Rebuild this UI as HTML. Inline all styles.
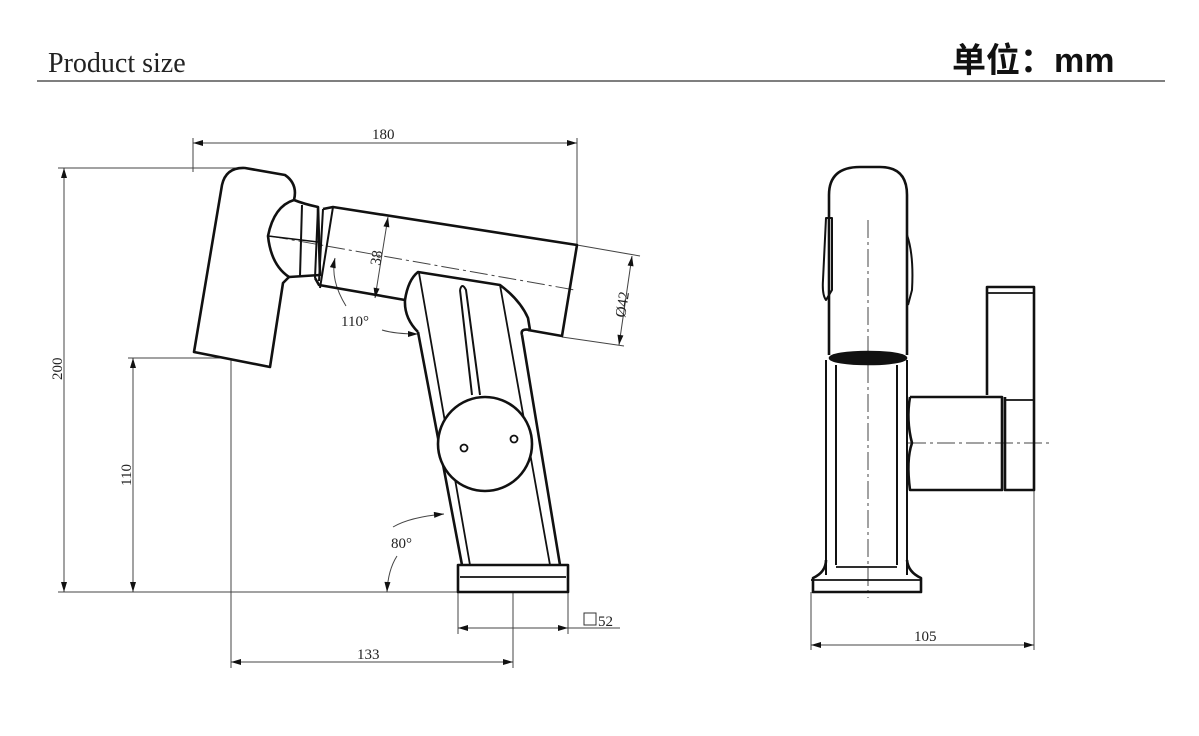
<!DOCTYPE html>
<html><head><meta charset="utf-8"><style>
html,body{margin:0;padding:0;background:#fff;width:1199px;height:736px;overflow:hidden}
svg{display:block}
.t{font-family:"Liberation Serif",serif;fill:#222}
</style></head><body>
<svg width="1199" height="736" viewBox="0 0 1199 736" xmlns="http://www.w3.org/2000/svg">
<defs>
<marker id="a" viewBox="0 0 10 6" refX="10" refY="3" markerWidth="14" markerHeight="6" markerUnits="userSpaceOnUse" orient="auto-start-reverse"><path d="M0,0 L10,3 L0,6z" fill="#111"/></marker>
</defs>
<text x="48" y="72" class="t" font-size="28">Product size</text>
<text x="952" y="72" font-family="'Liberation Sans','Noto Sans CJK SC',sans-serif" font-size="34" font-weight="bold" fill="#111">单位：mm</text>
<line x1="37" y1="81" x2="1165" y2="81" stroke="#555" stroke-width="1.5"/>

<g stroke="#444" stroke-width="1" fill="none">
<line x1="193" y1="138" x2="193" y2="172"/><line x1="577" y1="138" x2="577" y2="245"/>
<line x1="58" y1="168" x2="240" y2="168"/><line x1="58" y1="592" x2="460" y2="592"/>
<line x1="128" y1="358" x2="228" y2="358"/>
<line x1="231" y1="360" x2="231" y2="668"/><line x1="513" y1="592" x2="513" y2="668"/>
<line x1="458" y1="592" x2="458" y2="634"/><line x1="568" y1="592" x2="568" y2="634"/>
<line x1="577" y1="245" x2="640" y2="256"/><line x1="562" y1="337" x2="624" y2="346"/>
<line x1="1034" y1="490" x2="1034" y2="650"/><line x1="811" y1="592" x2="811" y2="650"/>
<line x1="193" y1="143" x2="577" y2="143" marker-start="url(#a)" marker-end="url(#a)"/>
<line x1="64" y1="168" x2="64" y2="592" marker-start="url(#a)" marker-end="url(#a)"/>
<line x1="133" y1="358" x2="133" y2="592" marker-start="url(#a)" marker-end="url(#a)"/>
<line x1="231" y1="662" x2="513" y2="662" marker-start="url(#a)" marker-end="url(#a)"/>
<line x1="458" y1="628" x2="568" y2="628" marker-start="url(#a)" marker-end="url(#a)"/>
<line x1="568" y1="628" x2="620" y2="628"/>
<line x1="811" y1="645" x2="1034" y2="645" marker-start="url(#a)" marker-end="url(#a)"/>
<line x1="632" y1="256" x2="619" y2="345" marker-start="url(#a)" marker-end="url(#a)"/>
<line x1="388" y1="217" x2="375" y2="298" marker-start="url(#a)" marker-end="url(#a)"/>
<path d="M346 306 Q330 280 335 258" marker-end="url(#a)"/>
<path d="M382 330 Q395 334 418 334" marker-end="url(#a)"/>
<path d="M393 527 Q410 517 444 514" marker-end="url(#a)"/>
<path d="M397 556 Q388 570 387 592" marker-end="url(#a)"/>
<line x1="270" y1="236" x2="575" y2="290" stroke-dasharray="18 4 3 4"/>
<line x1="868" y1="220" x2="868" y2="598" stroke-dasharray="18 4 3 4"/>
<line x1="908" y1="443" x2="1052" y2="443" stroke-dasharray="18 4 3 4"/>
</g>

<g class="t" font-size="15">
<text x="372" y="139">180</text>
<text x="357" y="659">133</text>
<text x="914" y="641">105</text>
<text x="598" y="626">52</text>
<text x="341" y="326">110°</text>
<text x="391" y="548">80°</text>
<text transform="translate(62,380) rotate(-90)">200</text>
<text transform="translate(131,486) rotate(-90)">110</text>
<text transform="translate(380,266) rotate(-81)">38</text>
<text transform="translate(625,318) rotate(-81)">Ø42</text>
</g>
<rect x="584" y="613" width="12" height="12" fill="none" stroke="#333" stroke-width="1"/>

<g stroke="#111" stroke-width="2.6" fill="none" stroke-linejoin="round">
<path d="M222 185 Q226 167 245 168 L285 175 Q298 184 294 200 Q274 206 268 236 Q271 265 289 277 L283 283 L270 367 L194 352 Z"/>
<path d="M294 200 Q304 204 318 207 L320 275 L289 277"/>
<line x1="268" y1="236" x2="318" y2="242" stroke-width="1.5"/>
<path d="M302 205 L300 276 M318 207 L315 278 M323 209 L319 281" stroke-width="2"/>
<path d="M323 209 L333 207 L577 245 L562 336 L528 330 M405 300 L319 285 L315 278"/>
<line x1="333" y1="207" x2="320" y2="288" stroke-width="2"/>
<path d="M418 332 Q404 318 405 300 Q408 280 418 272 L500 285 Q520 300 528 318 L530 330 Q520 328 522 335"/>
<path d="M418 332 L462 565 M522 335 L560 565"/>
<path d="M419 273 L470 565 M500 285 L550 565" stroke-width="1.8"/>
<path d="M460 290 Q462 282 466 290 L480 395 M460 290 L472 395" stroke-width="2"/>
<circle cx="485" cy="444" r="47" fill="#fff"/>
<circle cx="464" cy="448" r="3.5" stroke-width="1.8"/>
<circle cx="514" cy="439" r="3.5" stroke-width="1.8"/>
<rect x="458" y="565" width="110" height="27"/>
<line x1="460" y1="577" x2="566" y2="577" stroke-width="1.8"/>
<path d="M829 355 L829 195 Q829 167 860 167 L880 167 Q907 167 907 195 L907 355"/>
<ellipse cx="868" cy="358" rx="38" ry="6" fill="#111"/>
<path d="M826 360 L826 575 M907 360 L907 575 M836 365 L836 565 M897 365 L897 565" stroke-width="2"/>
<path d="M826 218 L823 280 Q822 295 826 300 L832 290 L832 218 Z" stroke-width="2"/>
<path d="M907 235 Q914 255 912 290 L908 305" stroke-width="2"/>
<path d="M826 560 Q826 572 813 578 L813 592 L921 592 L921 578 Q908 572 907 560"/>
<line x1="811" y1="580" x2="921" y2="580" stroke-width="1.8"/>
<line x1="836" y1="567" x2="897" y2="567" stroke-width="1.8"/>
<path d="M910 397 L1002 397 L1002 490 L910 490 Q906 460 912 443 Q906 420 910 397"/>
<path d="M987 395 L987 287 L1034 287 L1034 490 L1005 490 L1005 397"/>
<line x1="988" y1="293" x2="1034" y2="293" stroke-width="1.8"/>
<line x1="1005" y1="400" x2="1034" y2="400" stroke-width="1.8"/>
</g>
</svg>
</body></html>
